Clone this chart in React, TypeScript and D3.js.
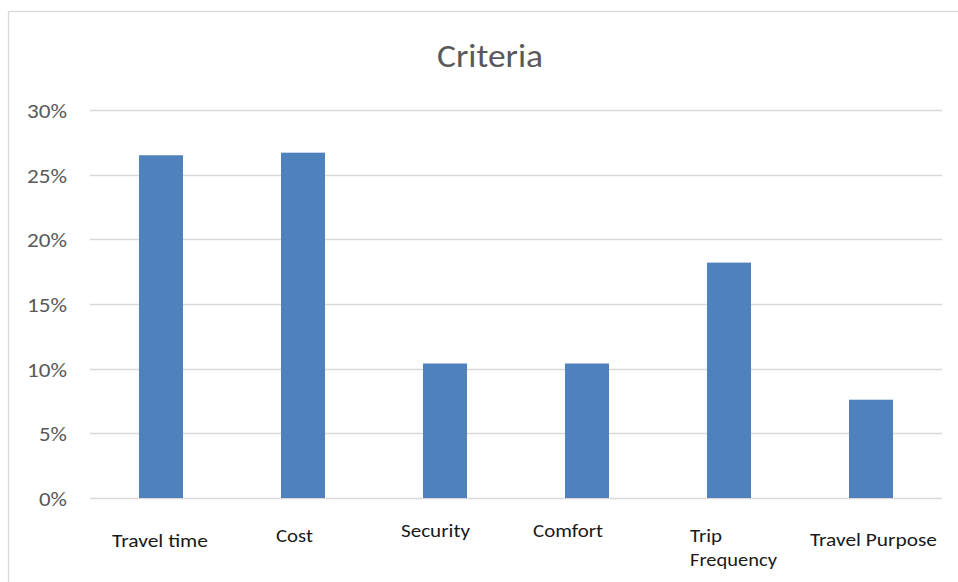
import React, { useEffect, useRef } from 'react';
import * as d3 from 'd3';

// chart data
const categories = ['Travel time', 'Cost', 'Security', 'Comfort', 'Trip Frequency', 'Travel Purpose'];
const shares = [0.265, 0.267, 0.104, 0.104, 0.182, 0.076];
const yTicks = [0, 0.05, 0.1, 0.15, 0.2, 0.25, 0.3];

// label lines (Excel wrapped "Trip Frequency" onto two lines)
const labelLines = [['Travel time'], ['Cost'], ['Security'], ['Comfort'], ['Trip', 'Frequency'], ['Travel Purpose']];

// layout of the category labels, tweaked by eye
const labelDx = [-1, -8.5, -9.5, -19, -39, 2.5];
const labelBaseline = [547, 542, 537, 537, 542, 546];
const labelAnchor = ['middle', 'middle', 'middle', 'middle', 'start', 'middle'];
const labelWidths: number[][] = [[96], [37], [69], [70], [32, 87], [127]];

const W = 958;
const H = 582;
const FONT = 'Carlito, Calibri, Lato, "Open Sans", sans-serif';

const App: React.FC = () => {
  const svgRef = useRef<SVGSVGElement>(null);

  useEffect(() => {
    if (!svgRef.current) return;
    const svg = d3.select(svgRef.current);
    svg.selectAll('*').remove();

    const left = 90;
    const right = 942;
    const top = 110;
    const bottom = 498;

    // chart frame
    svg.append('rect')
      .attr('x', 8.5)
      .attr('y', 11.5)
      .attr('width', W + 20)
      .attr('height', H + 20)
      .attr('fill', '#fff')
      .attr('stroke', '#d9d9d9')
      .attr('stroke-width', 1.3);

    const x = d3.scaleBand<string>()
      .domain(categories)
      .range([left, right])
      .paddingInner(0.69)
      .paddingOuter(0.345);

    const y = d3.scaleLinear().domain([0, 0.3]).range([bottom, top]);

    // gridlines
    svg.append('g')
      .selectAll('line')
      .data(yTicks)
      .enter()
      .append('line')
      .attr('x1', left)
      .attr('x2', right)
      .attr('y1', d => Math.round(y(d)) + 0.5)
      .attr('y2', d => Math.round(y(d)) + 0.5)
      .attr('stroke', '#d9d9d9')
      .attr('stroke-width', 1.3);

    // y tick labels
    svg.append('g')
      .selectAll('text')
      .data(yTicks)
      .enter()
      .append('text')
      .attr('x', 67)
      .attr('y', d => y(d) + 8)
      .attr('text-anchor', 'end')
      .attr('fill', '#595959')
      .attr('font-size', '20px')
      .attr('font-family', FONT)
      .attr('textLength', d => (d < 0.1 ? 28 : 40))
      .attr('lengthAdjust', 'spacingAndGlyphs')
      .text(d => d3.format('.0%')(d));

    // bars
    svg.append('g')
      .selectAll('rect')
      .data(shares)
      .enter()
      .append('rect')
      .attr('x', (_, i) => x(categories[i])!)
      .attr('y', d => y(d))
      .attr('width', x.bandwidth())
      .attr('height', d => bottom - y(d))
      .attr('fill', '#4f81bd');

    // category labels
    const labels = svg.append('g')
      .selectAll('text')
      .data(categories)
      .enter()
      .append('text')
      .attr('text-anchor', (_, i) => labelAnchor[i])
      .attr('fill', '#1a1a1a')
      .attr('font-size', '19px')
      .attr('font-family', FONT);

    labels.each(function (c, i) {
      const cx = x(c)! + x.bandwidth() / 2 + labelDx[i];
      labelLines[i].forEach((line, j) => {
        d3.select(this)
          .append('tspan')
          .attr('x', cx)
          .attr('y', labelBaseline[i] + j * 24)
          .attr('textLength', labelWidths[i][j])
          .attr('lengthAdjust', 'spacingAndGlyphs')
          .text(line);
      });
    });

    // title
    svg.append('text')
      .attr('x', 490)
      .attr('y', 67)
      .attr('text-anchor', 'middle')
      .attr('fill', '#595959')
      .attr('font-size', '33px')
      .attr('font-family', FONT)
      .attr('textLength', 106)
      .attr('lengthAdjust', 'spacingAndGlyphs')
      .text('Criteria');
  }, []);

  return (
    <div style={{ position: 'absolute', left: 0, top: 0, width: W, height: H, background: '#fff' }}>
      <svg ref={svgRef} width={W} height={H} style={{ display: 'block' }} />
    </div>
  );
};

export default App;
